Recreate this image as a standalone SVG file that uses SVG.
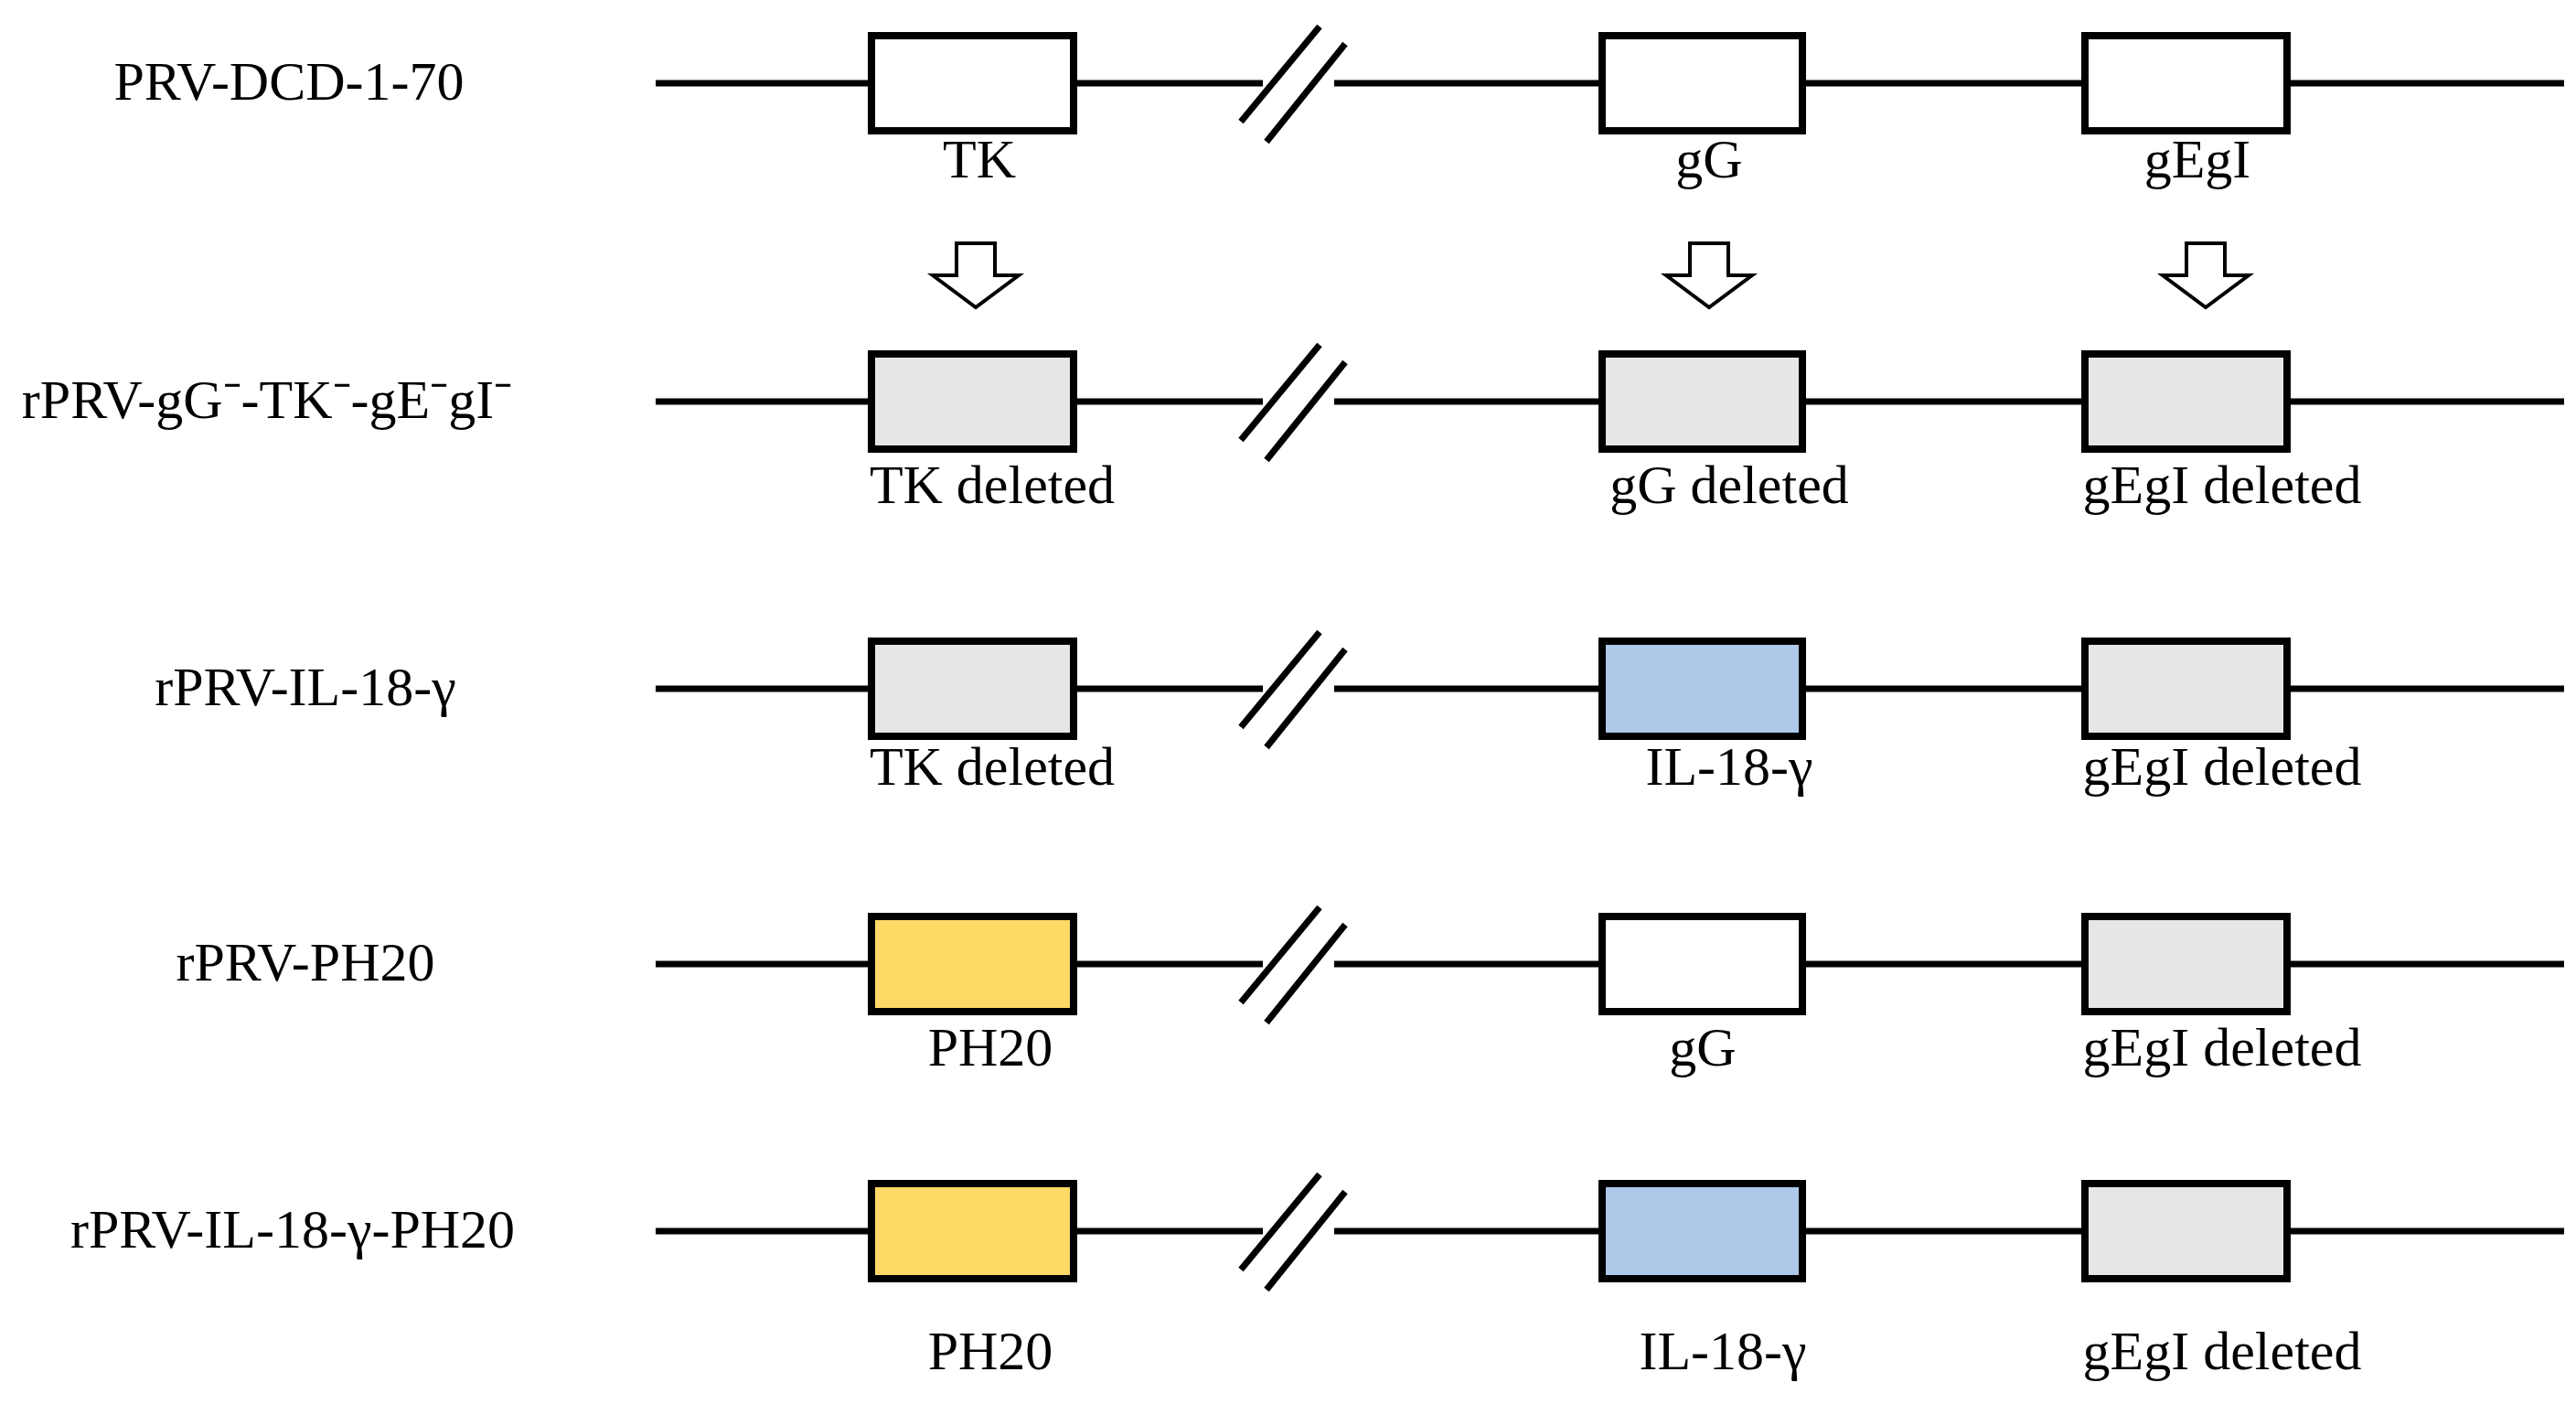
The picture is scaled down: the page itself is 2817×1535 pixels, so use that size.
<svg xmlns="http://www.w3.org/2000/svg" width="2817" height="1535" viewBox="0 0 2817 1535">
<style>
.ln{stroke:#000;stroke-width:7;fill:none}
.bx{stroke:#000;stroke-width:8}
.t{font-family:"Liberation Serif","Times New Roman",serif;font-size:60px;fill:#000;text-anchor:middle}
.ar{fill:#fff;stroke:#000;stroke-width:4}
</style>
<defs>
<g id="brk"><line class="ln" x1="1357" y1="42" x2="1443" y2="-62" stroke-width="6"/><line class="ln" x1="1385" y1="64" x2="1471" y2="-43" stroke-width="6"/></g>
<path id="arw" d="M-21,0 H21 V35 H47 L0,70 L-47,35 H-21 Z"/>
</defs>
<g id="connectors">
<g transform="translate(0,91)"><line class="ln" x1="717" y1="0" x2="1381" y2="0"/><line class="ln" x1="1459" y1="0" x2="2804" y2="0"/><use href="#brk"/></g>
<g transform="translate(0,439)"><line class="ln" x1="717" y1="0" x2="1381" y2="0"/><line class="ln" x1="1459" y1="0" x2="2804" y2="0"/><use href="#brk"/></g>
<g transform="translate(0,753)"><line class="ln" x1="717" y1="0" x2="1381" y2="0"/><line class="ln" x1="1459" y1="0" x2="2804" y2="0"/><use href="#brk"/></g>
<g transform="translate(0,1054)"><line class="ln" x1="717" y1="0" x2="1381" y2="0"/><line class="ln" x1="1459" y1="0" x2="2804" y2="0"/><use href="#brk"/></g>
<g transform="translate(0,1346)"><line class="ln" x1="717" y1="0" x2="1381" y2="0"/><line class="ln" x1="1459" y1="0" x2="2804" y2="0"/><use href="#brk"/></g>
<use href="#arw" class="ar" x="1067" y="266"/>
<use href="#arw" class="ar" x="1869" y="266"/>
<use href="#arw" class="ar" x="2412" y="266"/>
</g>
<g id="labels">
<text class="t" x="316" y="109">PRV-DCD-1-70</text>
<text class="t" x="292" y="457">rPRV-gG⁻-TK⁻-gE⁻gI⁻</text>
<text class="t" x="334" y="771">rPRV-IL-18-γ</text>
<text class="t" x="334" y="1072">rPRV-PH20</text>
<text class="t" x="320" y="1364">rPRV-IL-18-γ-PH20</text>
</g>
<g id="row1">
<rect class="bx" x="953" y="39" width="221" height="104" fill="#fff"/><text class="t" x="1071" y="194">TK</text>
<rect class="bx" x="1752" y="39" width="219" height="104" fill="#fff"/><text class="t" x="1869" y="194">gG</text>
<rect class="bx" x="2280" y="39" width="221" height="104" fill="#fff"/><text class="t" x="2403" y="194">gEgI</text>
</g>
<g id="row2">
<rect class="bx" x="953" y="387" width="221" height="104" fill="#e6e6e6"/><text class="t" x="1085" y="550">TK deleted</text>
<rect class="bx" x="1752" y="387" width="219" height="104" fill="#e6e6e6"/><text class="t" x="1891" y="550">gG deleted</text>
<rect class="bx" x="2280" y="387" width="221" height="104" fill="#e6e6e6"/><text class="t" x="2430" y="550">gEgI deleted</text>
</g>
<g id="row3">
<rect class="bx" x="953" y="701" width="221" height="104" fill="#e6e6e6"/><text class="t" x="1085" y="858">TK deleted</text>
<rect class="bx" x="1752" y="701" width="219" height="104" fill="#adc8e8"/><text class="t" x="1891" y="858">IL-18-γ</text>
<rect class="bx" x="2280" y="701" width="221" height="104" fill="#e6e6e6"/><text class="t" x="2430" y="858">gEgI deleted</text>
</g>
<g id="row4">
<rect class="bx" x="953" y="1002" width="221" height="104" fill="#ffd966"/><text class="t" x="1083" y="1165">PH20</text>
<rect class="bx" x="1752" y="1002" width="219" height="104" fill="#fff"/><text class="t" x="1862" y="1165">gG</text>
<rect class="bx" x="2280" y="1002" width="221" height="104" fill="#e6e6e6"/><text class="t" x="2430" y="1165">gEgI deleted</text>
</g>
<g id="row5">
<rect class="bx" x="953" y="1294" width="221" height="104" fill="#ffd966"/><text class="t" x="1083" y="1497">PH20</text>
<rect class="bx" x="1752" y="1294" width="219" height="104" fill="#adc8e8"/><text class="t" x="1884" y="1497">IL-18-γ</text>
<rect class="bx" x="2280" y="1294" width="221" height="104" fill="#e6e6e6"/><text class="t" x="2430" y="1497">gEgI deleted</text>
</g>
</svg>
